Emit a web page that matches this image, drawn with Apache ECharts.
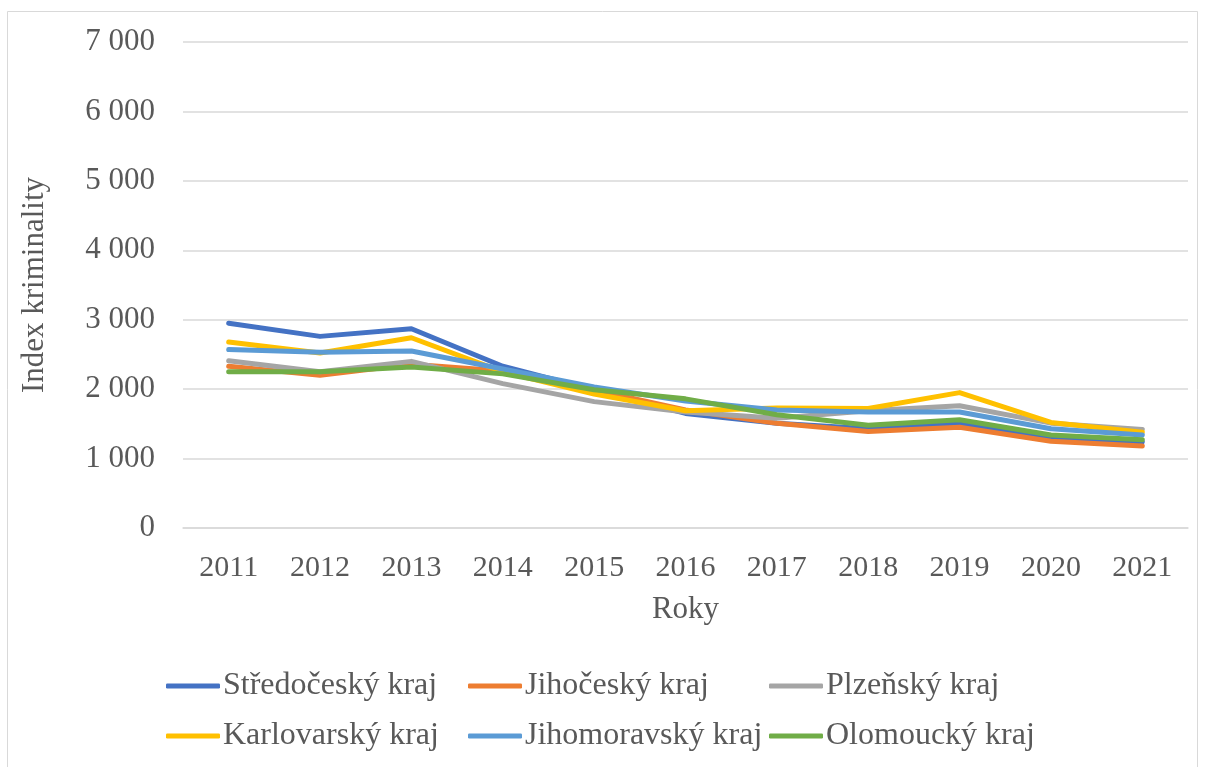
<!DOCTYPE html>
<html>
<head>
<meta charset="utf-8">
<script src="https://cdn.jsdelivr.net/npm/echarts@6/dist/echarts.min.js"></script>
<style>
  html, body { margin: 0; padding: 0; background: #fff; }
  #chart { width: 1206px; height: 767px; }
</style>
</head>
<body>
<div id="chart"></div>
<script>
const years = ["2011", "2012", "2013", "2014", "2015", "2016", "2017", "2018", "2019", "2020", "2021"];

const stredocesky = [2950, 2760, 2870, 2330, 1990, 1650, 1510, 1430, 1500, 1290, 1240];
const jihocesky = [2330, 2200, 2360, 2260, 1990, 1700, 1510, 1390, 1450, 1250, 1180];
const plzensky = [2410, 2250, 2400, 2080, 1820, 1670, 1580, 1690, 1760, 1510, 1420];
const karlovarsky = [2680, 2520, 2740, 2250, 1930, 1690, 1730, 1720, 1950, 1520, 1380];
const jihomoravsky = [2570, 2530, 2550, 2290, 2030, 1830, 1700, 1670, 1670, 1430, 1340];
const olomoucky = [2250, 2250, 2320, 2220, 1990, 1860, 1630, 1480, 1560, 1340, 1270];

const seriesDefs = [
  ["Středočeský kraj", stredocesky, "#4472C4"],
  ["Jihočeský kraj", jihocesky, "#ED7D31"],
  ["Plzeňský kraj", plzensky, "#A5A5A5"],
  ["Karlovarský kraj", karlovarsky, "#FFC000"],
  ["Jihomoravský kraj", jihomoravsky, "#5B9BD5"],
  ["Olomoucký kraj", olomoucky, "#70AD47"],
];

// legend slots, 3 per row
const legendPos = [
  [166, 670], [468, 670], [769, 670],
  [166, 720], [468, 720], [769, 720],
];

const textColor = "#595959";
const font = "Liberation Serif";

const chart = echarts.init(document.querySelector("#chart"));

chart.setOption({
  backgroundColor: "#fff",
  animation: false,
  graphic: [{
    type: "rect",
    shape: { x: 7.5, y: 11.5, width: 1190, height: 760 },
    style: { fill: "none", stroke: "#d9d9d9", lineWidth: 1 },
  }],
  legend: seriesDefs.map(([name], i) => ({
    data: [name],
    left: legendPos[i][0],
    top: legendPos[i][1],
    icon: "roundRect",
    itemWidth: 54,
    itemHeight: 5,
    itemGap: 0,
    padding: 0,
    textStyle: { color: textColor, fontFamily: font, fontSize: 32, padding: [0, 0, 0, -2] },
  })),
  grid: { left: 183, right: 18, top: 42, bottom: 239 },
  xAxis: {
    type: "category",
    data: years,
    boundaryGap: true,
    name: "Roky",
    nameLocation: "middle",
    nameGap: 66,
    nameTextStyle: { color: textColor, fontFamily: font, fontSize: 31 },
    axisLine: { lineStyle: { color: "#d9d9d9", width: 1.5 } },
    axisTick: { show: false },
    axisLabel: { color: textColor, fontFamily: font, fontSize: 30, margin: 25 },
  },
  yAxis: {
    type: "value",
    min: 0,
    max: 7000,
    interval: 1000,
    name: "Index kriminality",
    nameLocation: "middle",
    nameGap: 133,
    nameTextStyle: { color: textColor, fontFamily: font, fontSize: 31 },
    axisLine: { show: false },
    axisTick: { show: false },
    axisLabel: {
      color: textColor,
      fontFamily: font,
      fontSize: 31,
      margin: 28,
      formatter: (v) => String(v).replace(/\B(?=(\d{3})+(?!\d))/g, " "),
    },
    splitLine: { lineStyle: { color: "#d9d9d9", width: 1.5 } },
  },
  series: seriesDefs.map(([name, data, color]) => ({
    name,
    type: "line",
    data,
    showSymbol: false,
    symbol: "none",
    lineStyle: { color, width: 5, cap: "round", join: "round" },
    itemStyle: { color },
  })),
});
</script>
</body>
</html>
